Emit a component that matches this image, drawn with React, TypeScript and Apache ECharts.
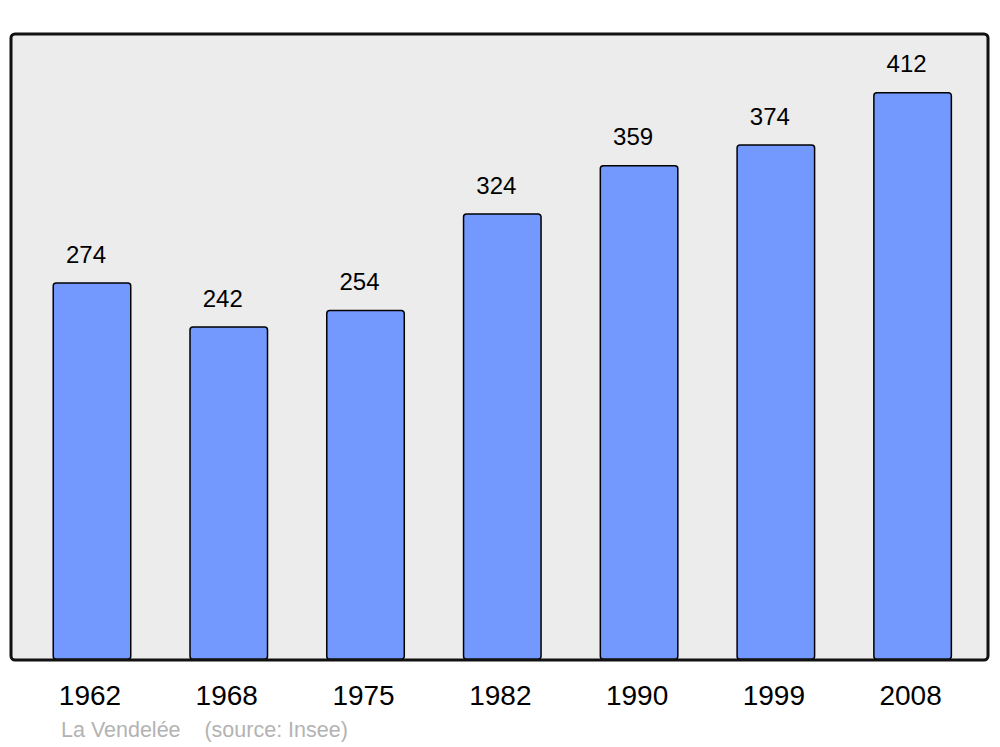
import React, { useEffect, useRef } from "react";
import * as echarts from "echarts";

const years = ["1962", "1968", "1975", "1982", "1990", "1999", "2008"];
const population = [274, 242, 254, 324, 359, 374, 412];
const sourceText = "La Vendelée    (source: Insee)";

export default function App() {
  const ref = useRef<HTMLDivElement>(null);
  useEffect(() => {
    const chart = echarts.init(ref.current!, null, { renderer: "svg" });
    chart.setOption({
      animation: false,
      backgroundColor: "#ffffff",
      grid: { left: 23.6, right: 19, top: 34, bottom: 87, containLabel: false },
      xAxis: {
        type: "category",
        data: years,
        axisLine: { show: false },
        axisTick: { show: false },
        axisLabel: {
          margin: 21,
          fontSize: 28,
          color: "#000",
          padding: [0, 4, 0, 0],
          fontFamily: "Liberation Sans, Arial, sans-serif",
        },
      },
      yAxis: {
        type: "value",
        min: 0,
        max: 454,
        show: false,
        splitLine: { show: false },
      },
      graphic: [
        {
          type: "rect",
          z: -10,
          silent: true,
          shape: { x: 11, y: 34, width: 977, height: 626, r: 4 },
          style: { fill: "#ececec", stroke: "none" },
        },
        {
          type: "rect",
          z: 100,
          silent: true,
          shape: { x: 11, y: 34, width: 977, height: 626, r: 4 },
          style: { fill: "none", stroke: "#111", lineWidth: 3 },
        },
        {
          type: "text",
          x: 61,
          y: 730,
          silent: true,
          style: {
            text: sourceText,
            fill: "#b3b3b3",
            fontSize: 21.5,
            fontFamily: "Liberation Sans, Arial, sans-serif",
            verticalAlign: "middle",
            align: "left",
          },
        },
      ],
      series: [
        {
          type: "bar",
          data: population,
          barWidth: 79,
          itemStyle: {
            color: "#7399ff",
            borderColor: "#000",
            borderWidth: 1.5,
            borderRadius: 3,
          },
          label: {
            show: true,
            position: "top",
            distance: 16,
            offset: [-6, 0],
            fontSize: 24,
            color: "#000",
            fontFamily: "Liberation Sans, Arial, sans-serif",
          },
        },
      ],
    });
    return () => chart.dispose();
  }, []);
  return (
    <div
      ref={ref}
      style={{ position: "fixed", left: 0, top: 0, width: 1000, height: 747 }}
    />
  );
}
